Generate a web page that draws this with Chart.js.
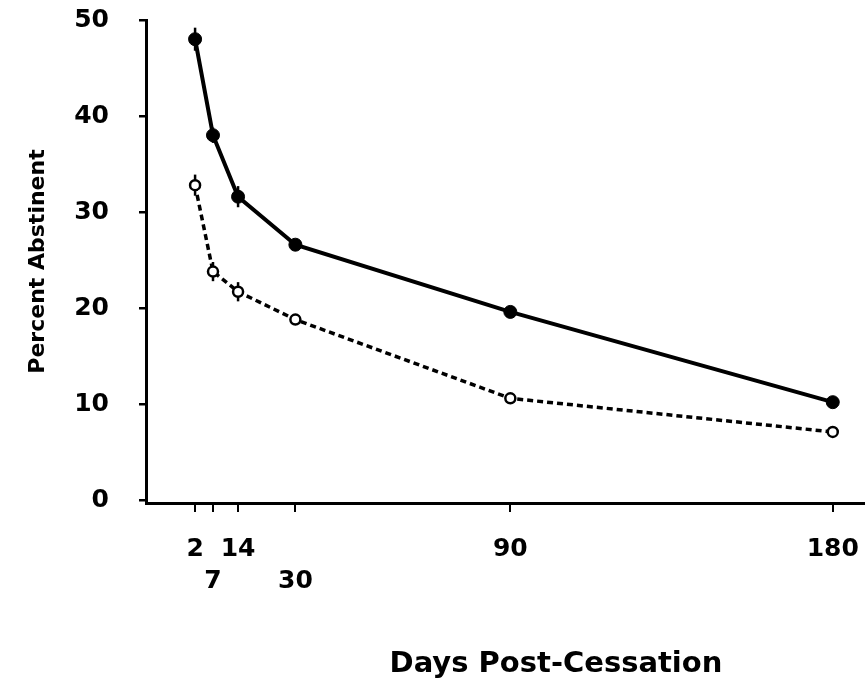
<!DOCTYPE html>
<html>
<head>
<meta charset="utf-8">
<script src="https://cdn.jsdelivr.net/npm/chart.js@4.4.1/dist/chart.umd.min.js"></script>
<style>
  html, body { margin: 0; padding: 0; background: #fff; }
  #wrap { width: 865px; height: 688px; }
</style>
</head>
<body>
<div id="wrap"><canvas id="myChart" width="865" height="688"></canvas></div>
<script>
// days post-cessation (x values)
var days = [2, 7, 14, 30, 90, 180];
// labels under the axis, 7 and 30 sit on a second row
var dayLabels = [['2', ''], ['', '7'], ['14', ''], ['', '30'], ['90', ''], ['180', '']];
var yTicks = [0, 10, 20, 30, 40, 50];

// solid line, filled markers
var upperVals = [48, 38, 31.6, 26.6, 19.6, 10.2];
var upperErr = [1.2, 0.8, 1.1, 0.6, 0.5, 0.4];
// dashed line, open markers
var lowerVals = [32.8, 23.8, 21.7, 18.8, 10.6, 7.1];
var lowerErr = [1.1, 1.0, 1.0, 0.5, 0.4, 0.4];

function toPoints(vals) {
  var pts = [];
  for (var i = 0; i < days.length; i++) {
    pts.push({x: days[i], y: vals[i]});
  }
  return pts;
}

var errs = [upperErr, lowerErr];

// little vertical error bars through each marker
var errorBars = {
  id: 'errorBars',
  beforeDatasetsDraw: function(chart) {
    var ctx = chart.ctx;
    var xs = chart.scales.x, ys = chart.scales.y;
    ctx.save();
    ctx.strokeStyle = '#000';
    ctx.lineWidth = 2.5;
    chart.data.datasets.forEach(function(ds, d) {
      ds.data.forEach(function(p, i) {
        var e = errs[d][i];
        var px = xs.getPixelForValue(p.x);
        ctx.beginPath();
        ctx.moveTo(px, ys.getPixelForValue(p.y + e));
        ctx.lineTo(px, ys.getPixelForValue(p.y - e));
        ctx.stroke();
      });
    });
    ctx.restore();
  }
};

var fam = 'DejaVu Sans, Verdana, sans-serif';
var tickFont = {family: fam, size: 25, weight: 'bold', lineHeight: 1.3};

var ctx = document.getElementById('myChart').getContext('2d');
var myChart = new Chart(ctx, {
  type: 'line',
  data: {
    datasets: [{
      data: toPoints(upperVals),
      borderColor: '#000',
      borderWidth: 4,
      pointRadius: 6.5,
      pointBackgroundColor: '#000',
      pointBorderColor: '#000',
      pointBorderWidth: 1,
      tension: 0,
      clip: false
    }, {
      data: toPoints(lowerVals),
      borderColor: '#000',
      borderWidth: 3.5,
      borderDash: [6, 4],
      pointRadius: 5,
      pointBackgroundColor: '#fff',
      pointBorderColor: '#000',
      pointBorderWidth: 2.5,
      tension: 0,
      clip: false
    }]
  },
  options: {
    responsive: false,
    animation: false,
    layout: {autoPadding: false, padding: {top: 20, right: 0, left: 0, bottom: 0}},
    plugins: {legend: {display: false}, tooltip: {enabled: false}},
    scales: {
      x: {
        type: 'linear',
        min: -11.7,
        max: 189,
        afterBuildTicks: function(axis) {
          axis.ticks = days.map(function(v) { return {value: v}; });
        },
        afterFit: function(axis) {
          axis.height = 185;
          axis.paddingRight = 0;
        },
        border: {display: true, color: '#000', width: 3},
        grid: {drawOnChartArea: false, drawTicks: true, tickLength: 9, color: '#000', lineWidth: 2},
        ticks: {
          color: '#000',
          font: tickFont,
          padding: 21,
          maxRotation: 0,
          autoSkip: false,
          callback: function(v) {
            var i = days.indexOf(v);
            return i >= 0 ? dayLabels[i] : '';
          }
        },
        title: {
          display: true,
          // leading spaces push the title right, as in the original
          text: '\u00a0\u00a0\u00a0\u00a0\u00a0\u00a0\u00a0\u00a0\u00a0\u00a0Days Post-Cessation',
          color: '#000',
          font: {family: fam, size: 29, weight: 'bold'},
          padding: {top: 0, bottom: 6}
        }
      },
      y: {
        min: -0.3,
        max: 50,
        afterBuildTicks: function(axis) {
          axis.ticks = yTicks.map(function(v) { return {value: v}; });
        },
        afterFit: function(axis) {
          axis.width = 146;
          axis.paddingTop = 0;
        },
        border: {display: true, color: '#000', width: 3},
        grid: {drawOnChartArea: false, drawTicks: true, tickLength: 7, color: '#000', lineWidth: 2.5},
        ticks: {color: '#000', font: tickFont, padding: 30},
        title: {
          display: true,
          text: 'Percent Abstinent',
          color: '#000',
          font: {family: fam, size: 22, weight: 'bold'},
          padding: {top: 25, bottom: 0}
        }
      }
    }
  },
  plugins: [errorBars]
});
</script>
</body>
</html>
